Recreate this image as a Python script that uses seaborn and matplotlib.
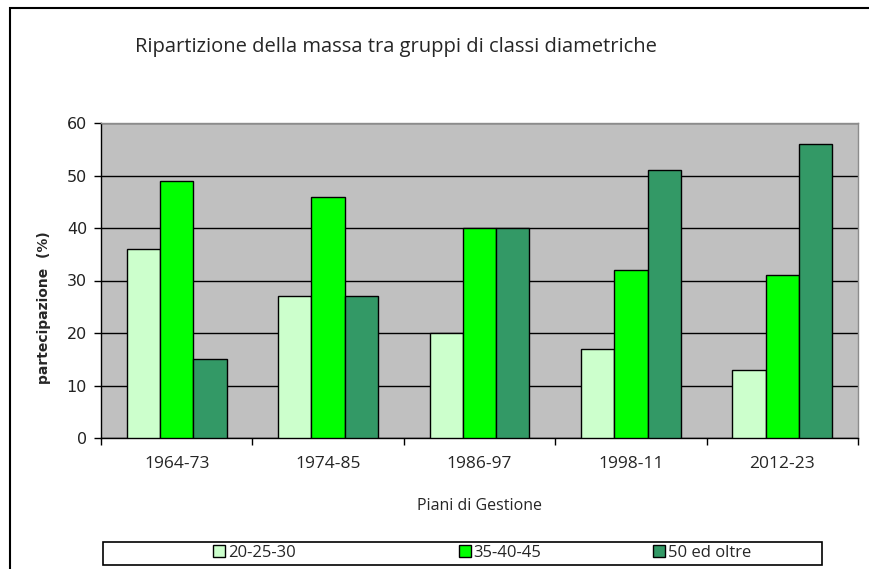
import matplotlib
matplotlib.use("Agg")
import matplotlib.pyplot as plt
from matplotlib.patches import Rectangle, Patch
import numpy as np
import pandas as pd
import seaborn as sns

# ---------------------------------------------------------------
# data
# ---------------------------------------------------------------
periods = ["1964-73", "1974-85", "1986-97", "1998-11", "2012-23"]
classes = ["20-25-30", "35-40-45", "50 ed oltre"]
small = [36, 27, 20, 17, 13]
medium = [49, 46, 40, 32, 31]
large = [15, 27, 40, 51, 56]
colors = ["#ccffcc", "#00ff00", "#339966"]

df = pd.DataFrame({
    "periodo": periods * 3,
    "classe": [c for c in classes for _ in periods],
    "valore": small + medium + large,
})

sns.set_theme(style="white")
plt.rcParams["font.family"] = ["Open Sans", "DejaVu Sans"]

fig = plt.figure(figsize=(8.7, 5.69), dpi=100)
ax = fig.add_axes([101 / 870, 1 - 438 / 569, 757 / 870, 315 / 569])

sns.barplot(data=df, x="periodo", y="valore", hue="classe", order=periods,
            hue_order=classes, palette=colors, width=0.66, gap=0,
            edgecolor="black", linewidth=1, saturation=1, legend=False,
            zorder=3, ax=ax)

ax.set_facecolor("#c0c0c0")
ax.set_ylim(0, 60)
ax.set_xlim(-0.5, len(periods) - 0.5)
ax.set_yticks(np.arange(0, 61, 10))
ax.yaxis.grid(True, color="black", linewidth=1, zorder=1)
ax.set_axisbelow(True)

for s in ["left", "bottom"]:
    ax.spines[s].set_color("black")
    ax.spines[s].set_linewidth(1)
for s in ["top", "right"]:
    ax.spines[s].set_color("#8c8c8c")
    ax.spines[s].set_linewidth(1)

# ticks between the groups, labels centred under them
ax.set_xticks(np.arange(len(periods) + 1) - 0.5, minor=True)
ax.tick_params(axis="x", which="major", length=0, pad=13, labelsize=12.5)
ax.tick_params(axis="x", which="minor", direction="out", length=5,
               width=1, color="black", bottom=True)
ax.tick_params(axis="y", direction="out", length=5, width=1, color="black",
               left=True, pad=5)
for lab in ax.get_yticklabels():
    lab.set_fontfamily("DejaVu Sans")
    lab.set_fontsize(11.5)
    lab.set_color("#222222")

ax.set_xlabel("Piani di Gestione", fontsize=11.5, labelpad=19)
ax.set_ylabel("partecipazione  (%)", fontsize=10, fontweight="bold",
              fontfamily="DejaVu Sans")
ax.yaxis.set_label_coords(-50 / 757, 1 - (308 - 123) / 315)

fig.text(396 / 870, 1 - 47 / 569,
         "Ripartizione della massa tra gruppi di classi diametriche",
         ha="center", va="center", fontsize=14.5)

# legend: one entry per slot, inside a separate box
handle_x = [211, 457, 651]
for c, name, hx in zip(colors, classes, handle_x):
    h = Patch(facecolor=c, edgecolor="black", linewidth=1)
    fig.legend([h], [name], loc="center left", frameon=False,
               bbox_to_anchor=((hx - 10) / 870, 1 - 553 / 569), fontsize=12,
               handlelength=0.75, handleheight=0.75, handletextpad=0.15,
               borderpad=0.2)
fig.patches.append(Rectangle((103 / 870, 1 - 565 / 569), 719 / 870, 23 / 569,
                             transform=fig.transFigure, fill=False,
                             edgecolor="black", linewidth=1.2))

# outer frame of the chart
fig.patches.append(Rectangle((10 / 870, -0.02), 1.0, 1 - 8 / 569 + 0.02,
                             transform=fig.transFigure, fill=False,
                             edgecolor="black", linewidth=1.5))

fig.savefig("out.png", dpi=100)
